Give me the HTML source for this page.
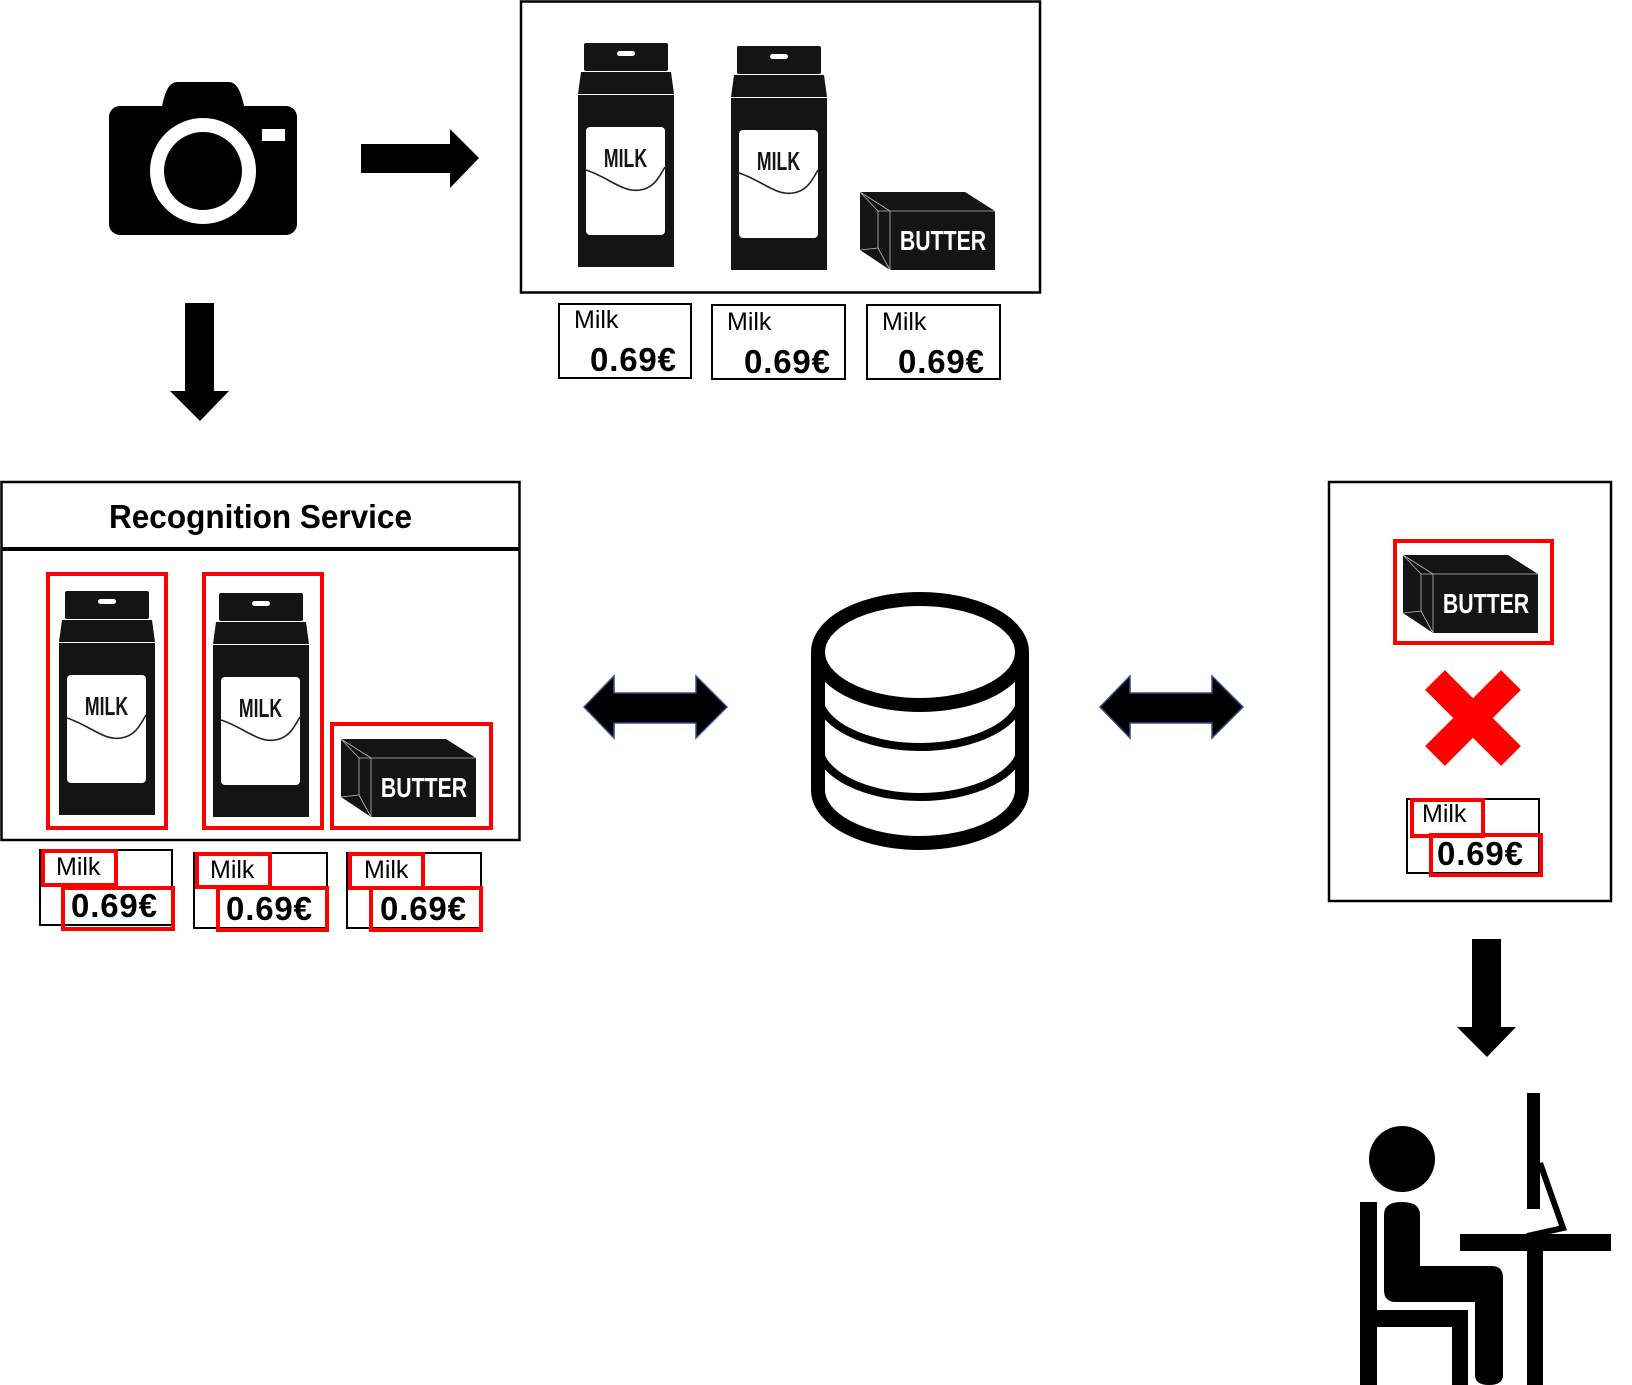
<!DOCTYPE html>
<html><head><meta charset="utf-8"><style>
html,body{margin:0;padding:0;background:#fff;}
svg{display:block;}
text{font-family:"Liberation Sans","DejaVu Sans",sans-serif;}
</style></head><body>
<svg width="1632" height="1385" viewBox="0 0 1632 1385" xmlns="http://www.w3.org/2000/svg">
<defs>
<g id="carton">
  <rect x="6" y="0" width="84" height="28" rx="2" fill="#141414"/>
  <path d="M3 29 L93 29 L96 51 L0 51 Z" fill="#141414"/>
  <rect x="0" y="52" width="96" height="172" fill="#141414"/>
  <rect x="39" y="8" width="18" height="5" rx="2.5" fill="#fff"/>
  <rect x="8" y="84" width="79" height="108" rx="4" fill="#fff"/>
  <text x="47.5" y="124" font-size="26" font-weight="bold" fill="#141414" text-anchor="middle" transform="translate(47.5 0) scale(0.68 1) translate(-47.5 0)">MILK</text>
  <path d="M8 127 C30 134 45 150 62 147 C77 145 82 132 87 124" fill="none" stroke="#222" stroke-width="1.6"/>
</g>
<g id="butter">
  <path d="M0 0 L105 0 L135 19 L135 78 L30 78 L0 58 Z" fill="#141414"/>
  <path d="M0 0 L30 19 L135 19 M30 19 L30 78 M0 0 L18 19 L18 56 L0 58 M18 56 L30 78 M18 19 L30 19" fill="none" stroke="#bbb" stroke-width="0.8"/>
  <text x="83" y="58" font-size="28" font-weight="bold" fill="#fff" text-anchor="middle" transform="translate(83 0) scale(0.76 1) translate(-83 0)">BUTTER</text>
</g>
<g id="dbl">
  <path d="M0 31 L30 0 L30 17 L112 17 L112 0 L143 31 L112 62 L112 47 L30 47 L30 62 Z" fill="#000" stroke="#2f4f8f" stroke-width="1.5"/>
</g>
</defs>

<!-- camera -->
<path d="M162 106 C166 88 170 82 178 82 L228 82 C236 82 240 88 244 106 Z" fill="#000"/>
<rect x="109" y="106" width="188" height="129" rx="11" fill="#000"/>
<circle cx="203" cy="171" r="46" fill="none" stroke="#fff" stroke-width="14"/>
<rect x="262" y="129" width="23" height="12" fill="#fff"/>

<!-- arrow right -->
<path d="M361 144 L450 144 L450 129 L479 158 L450 188 L450 173 L361 173 Z" fill="#000"/>
<!-- arrow down -->
<path d="M185 303 L214 303 L214 391 L229 391 L200 421 L170 391 L185 391 Z" fill="#000"/>

<!-- top image box -->
<rect x="521" y="1.5" width="519" height="291" fill="none" stroke="#000" stroke-width="2.5"/>
<use href="#carton" x="578" y="43"/>
<use href="#carton" x="731" y="46"/>
<use href="#butter" x="860" y="192"/>

<!-- top labels -->
<g fill="none" stroke="#000" stroke-width="2">
<rect x="559" y="304" width="132" height="74"/>
<rect x="712" y="305" width="133" height="74"/>
<rect x="867" y="305" width="133" height="74"/>
</g>
<g font-size="25"><text x="574" y="328">Milk</text><text x="727" y="330">Milk</text><text x="882" y="330">Milk</text></g>
<g font-size="33" font-weight="bold"><text x="590" y="371" textLength="86">0.69€</text><text x="744" y="373" textLength="86">0.69€</text><text x="898" y="373" textLength="86">0.69€</text></g>

<!-- Recognition service -->
<rect x="1.5" y="482" width="518" height="358" fill="none" stroke="#000" stroke-width="2.5"/>
<line x1="1" y1="549" x2="520" y2="549" stroke="#000" stroke-width="4"/>
<text x="109" y="528" font-size="33" font-weight="bold" textLength="303" lengthAdjust="spacingAndGlyphs">Recognition Service</text>
<use href="#carton" x="59" y="591"/>
<use href="#carton" x="213" y="593"/>
<use href="#butter" x="341" y="739"/>
<g fill="none" stroke="#f00" stroke-width="4">
<rect x="48" y="574" width="118" height="254"/>
<rect x="204" y="574" width="118" height="254"/>
<rect x="332" y="724" width="159" height="104"/>
</g>
<!-- RS labels -->
<g fill="none" stroke="#000" stroke-width="2">
<rect x="40" y="850" width="132" height="75"/>
<rect x="194" y="853" width="133" height="75"/>
<rect x="347" y="853" width="134" height="75"/>
</g>
<g font-size="25"><text x="56" y="875">Milk</text><text x="210" y="878">Milk</text><text x="364" y="878">Milk</text></g>
<g font-size="33" font-weight="bold"><text x="71" y="917" textLength="86">0.69€</text><text x="226" y="920" textLength="86">0.69€</text><text x="380" y="920" textLength="86">0.69€</text></g>
<g fill="none" stroke="#f00" stroke-width="4">
<rect x="43" y="851" width="73" height="34"/>
<rect x="63" y="888" width="110" height="41"/>
<rect x="197" y="854" width="73" height="33"/>
<rect x="218" y="888" width="109" height="42"/>
<rect x="350" y="854" width="73" height="34"/>
<rect x="371" y="888" width="110" height="42"/>
</g>

<!-- double arrows -->
<use href="#dbl" x="584" y="676"/>
<use href="#dbl" x="1100" y="676"/>

<!-- database -->
<g fill="none" stroke="#000">
<ellipse cx="920" cy="652" rx="102" ry="53" stroke-width="14"/>
<path d="M818 652 L818 790 A102 53 0 0 0 1022 790 L1022 652" stroke-width="14"/>
<path d="M818 694 A102 53 0 0 0 1022 694" stroke-width="8"/>
<path d="M818 744 A102 53 0 0 0 1022 744" stroke-width="8"/>
</g>

<!-- right box -->
<rect x="1329" y="482" width="282" height="419" fill="none" stroke="#000" stroke-width="2.5"/>
<use href="#butter" x="1403" y="555"/>
<rect x="1395" y="541" width="157" height="102" fill="none" stroke="#f00" stroke-width="4"/>
<path d="M1435 680 L1511 756 M1511 680 L1435 756" stroke="#f00" stroke-width="28" stroke-linecap="butt"/>
<rect x="1407" y="799" width="132" height="74" fill="none" stroke="#000" stroke-width="2"/>
<text x="1422" y="822" font-size="25">Milk</text>
<text x="1437" y="865" font-size="33" font-weight="bold" textLength="86">0.69€</text>
<g fill="none" stroke="#f00" stroke-width="4">
<rect x="1412" y="800" width="71" height="36"/>
<rect x="1431" y="835" width="110" height="40"/>
</g>

<!-- arrow down right -->
<path d="M1472 939 L1501 939 L1501 1027 L1516 1027 L1487 1057 L1457 1027 L1472 1027 Z" fill="#000"/>

<!-- person at desk -->
<g fill="#000">
<circle cx="1402" cy="1159" r="33"/>
<rect x="1360" y="1202" width="17" height="183"/>
<rect x="1377" y="1310" width="91" height="17"/>
<rect x="1452" y="1310" width="16" height="75"/>
<path d="M1384 1215 Q1384 1202 1402 1202 Q1420 1202 1420 1215 L1420 1266 L1492 1266 Q1503 1266 1503 1278 L1503 1375 Q1503 1385 1489 1385 Q1475 1385 1475 1375 L1475 1302 L1396 1302 Q1384 1302 1384 1290 Z"/>
<rect x="1460" y="1234" width="151" height="17"/>
<rect x="1527" y="1251" width="16" height="134"/>
<rect x="1527" y="1093" width="13" height="116"/>
</g>
<path d="M1540 1163 L1563 1228 L1527 1236" fill="none" stroke="#000" stroke-width="6"/>
</svg>
</body></html>
